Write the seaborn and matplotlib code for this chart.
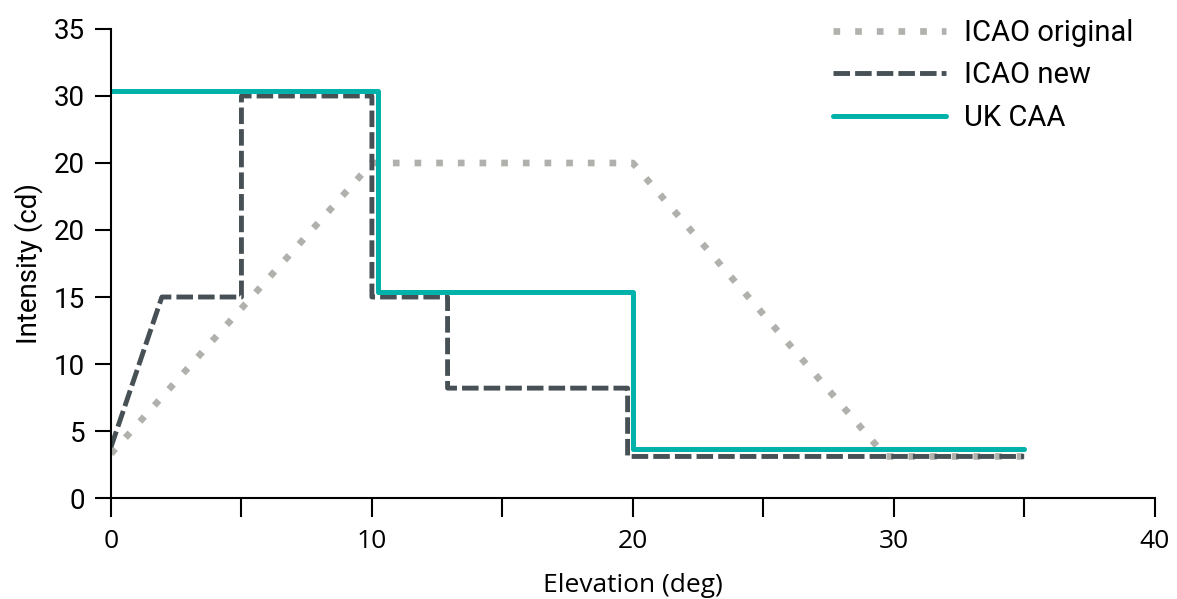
import numpy as np
import pandas as pd
import matplotlib
matplotlib.use("Agg")
import matplotlib.pyplot as plt
import seaborn as sns

# ----------------------------
# Data
# ----------------------------

orig_x = [0, 10, 20, 29.7, 35]
orig_y = [3.3, 25, 25, 3.1, 3.1]

new_x = [0, 1.95, 5, 5, 10, 10, 12.9, 12.9, 19.8, 19.8, 35]
new_y = [3.8, 15, 15, 30, 30, 15, 15, 8.2, 8.2, 3.1, 3.1]

caa_x = [0, 10.25, 10.25, 20, 20, 35]
caa_y = [30.4, 30.4, 15.4, 15.4, 3.65, 3.65]

y_ticks = [0, 5, 10, 15, 20, 25, 30, 35]
y_tick_labels = ["0", "5", "10", "15", "20", "20", "30", "35"]
x_ticks = [0, 5, 10, 15, 20, 25, 30, 35, 40]
x_tick_labels = ["0", "", "10", "", "20", "", "30", "", "40"]

series_names = ["ICAO original", "ICAO new", "UK CAA"]

# ----------------------------
# Plot
# ----------------------------

sns.set_style("ticks")
plt.rcParams["font.family"] = ["Roboto", "DejaVu Sans"]
plt.rcParams["text.color"] = "black"
x_font = ["Open Sans", "DejaVu Sans"]

fig = plt.figure(figsize=(11.77, 5.99), dpi=100)
ax = fig.add_axes([0.0943, 0.1686, 0.8867, 0.783])

sns.lineplot(x=orig_x, y=orig_y, ax=ax, sort=False, estimator=None,
             color="#b0b0ac", lw=4.8, linestyle=(0, (1, 2.25)),
             label=series_names[0])
sns.lineplot(x=new_x, y=new_y, ax=ax, sort=False, estimator=None,
             color="#465055", lw=3.5, linestyle=(0, (3.4, 1.05)),
             label=series_names[1])
sns.lineplot(x=caa_x, y=caa_y, ax=ax, sort=False, estimator=None,
             color="#00b2a9", lw=3.6, linestyle="-",
             label=series_names[2])

ax.set_xlim(0, 40)
ax.set_ylim(0, 35)
ax.set_yticks(y_ticks)
ax.set_yticklabels(y_tick_labels, fontsize=20)
ax.set_xticks(x_ticks)
ax.set_xticklabels(x_tick_labels, fontsize=19, family=x_font)

ax.tick_params(axis="y", length=11.5, width=1.5, pad=7, colors="black")
ax.tick_params(axis="x", length=14, width=1.5, pad=8, colors="black")

sns.despine(ax=ax)
for side in ["left", "bottom"]:
    ax.spines[side].set_linewidth(1.5)
    ax.spines[side].set_color("black")

ax.set_xlabel("Elevation (deg)", fontsize=19, family=x_font, labelpad=14,
              color="black")
ax.set_ylabel("Intensity (cd)", fontsize=20, labelpad=8, color="black")

leg = ax.legend(loc="upper left", bbox_to_anchor=(0.695, 0.993),
                bbox_transform=fig.transFigure, frameon=False, fontsize=21,
                handlelength=3.9, handletextpad=0.6, labelspacing=0.5,
                borderpad=0)
for t in leg.get_texts():
    t.set_color("black")

fig.savefig("out.png", dpi=100)
